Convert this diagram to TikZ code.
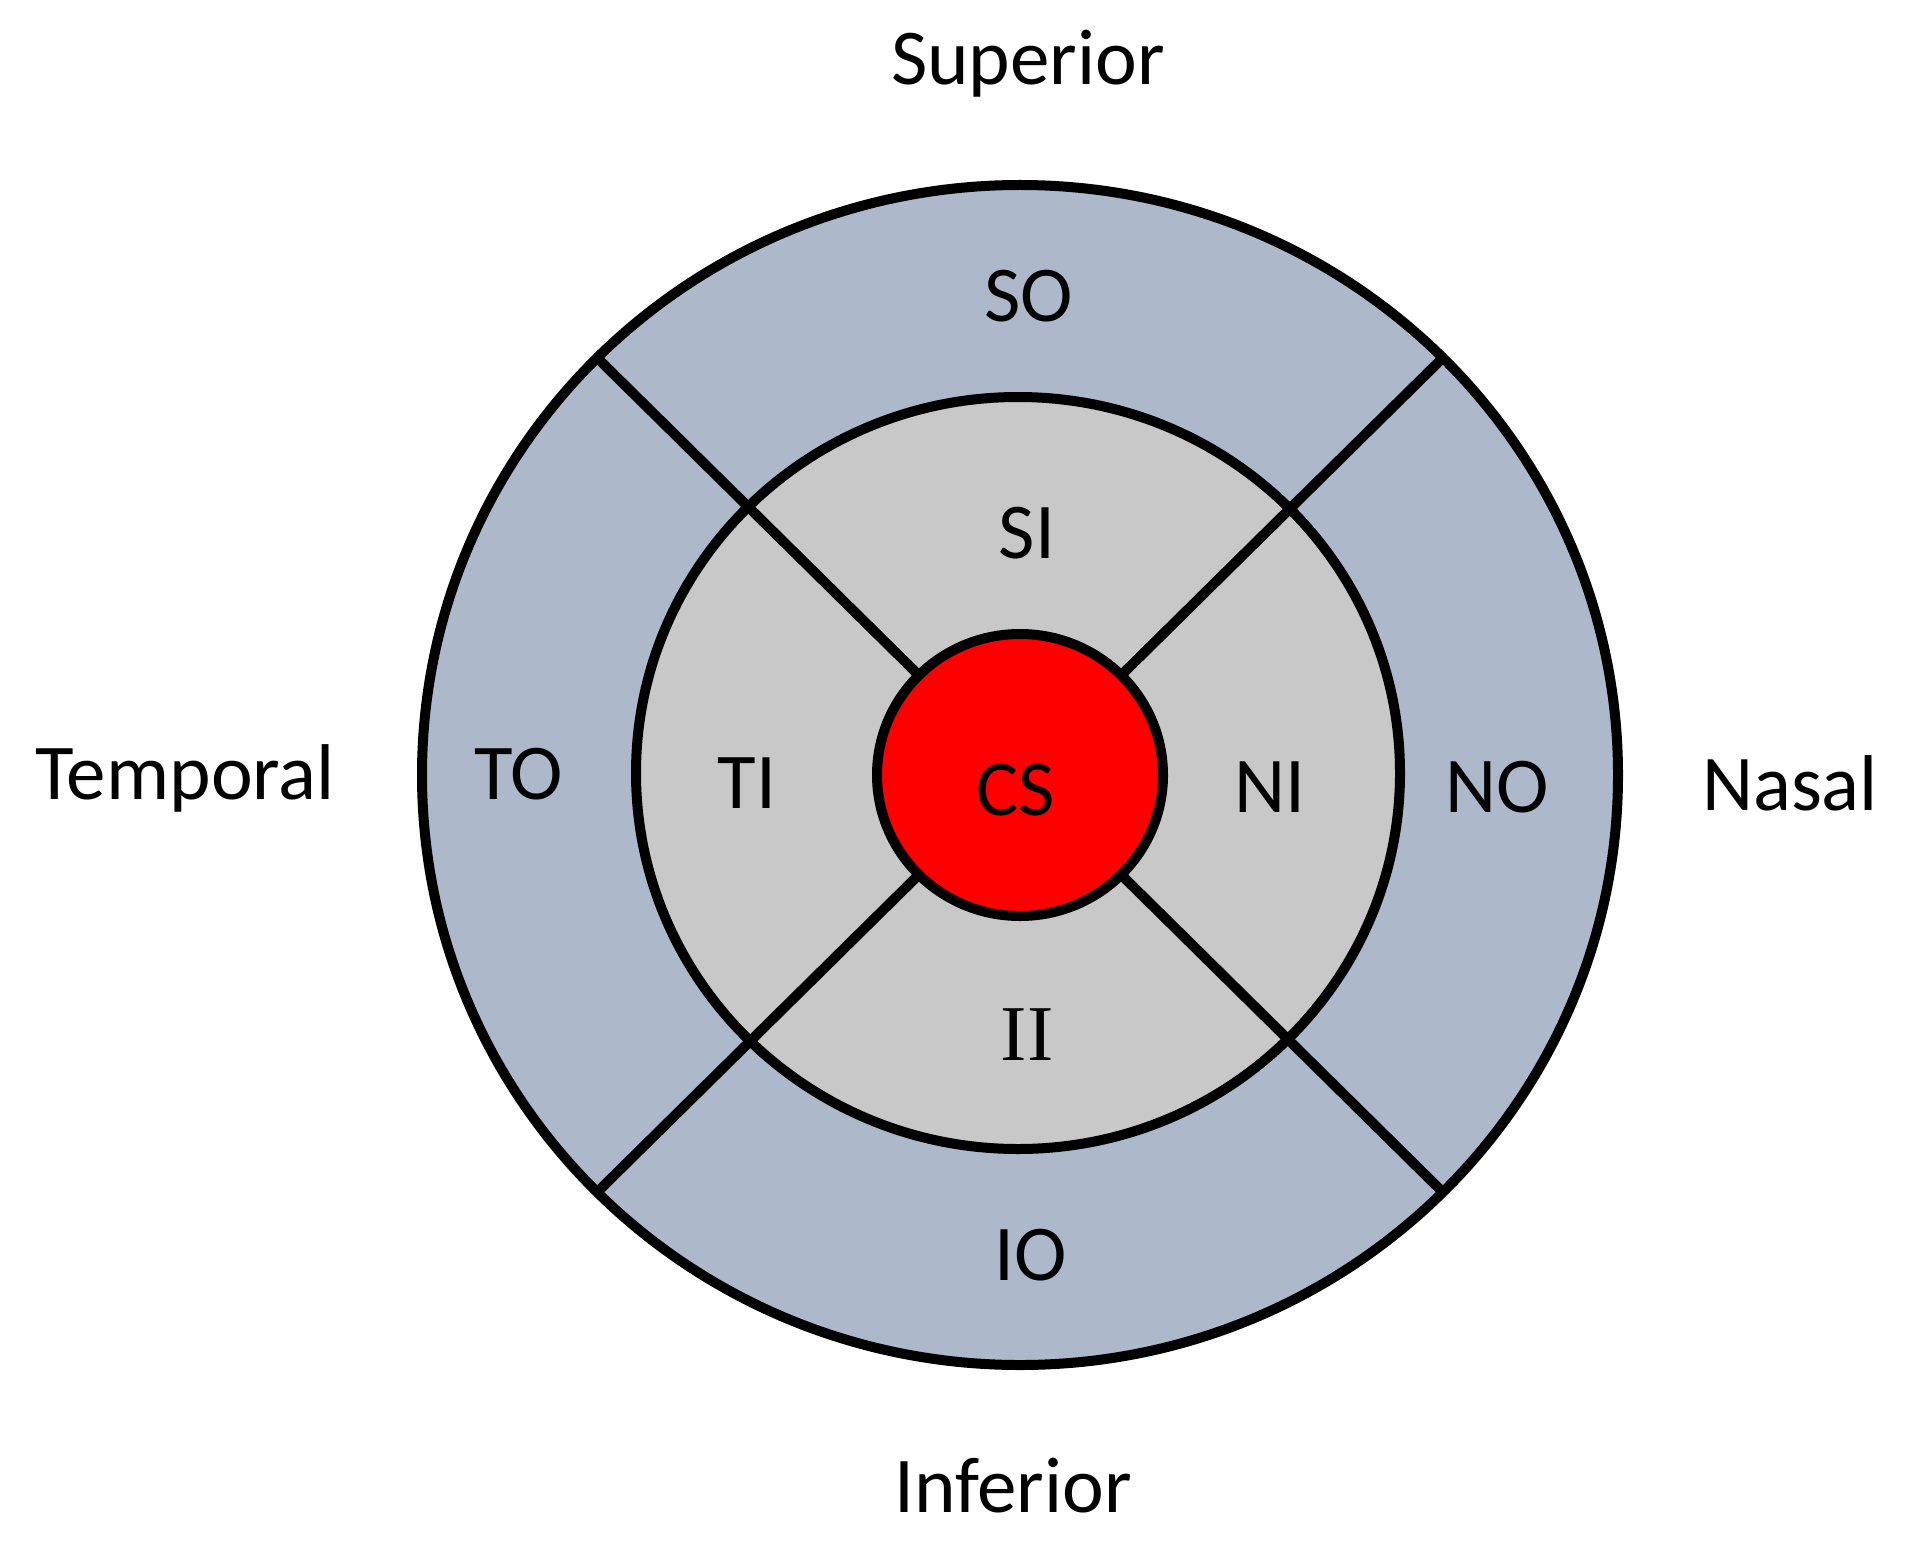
\documentclass[tikz,border=0pt]{standalone}
\usepackage{fontspec}
\setmainfont{Carlito}
\newfontfamily\romanfont{Liberation Serif}
\usepackage{tikz}
\definecolor{outerring}{RGB}{173,185,202}
\definecolor{innerring}{RGB}{200,200,200}
\definecolor{fovea}{RGB}{255,0,0}
\tikzset{zone/.style = {draw = black, line width = 1mm},
         lbl/.style  = {anchor = base, inner sep = 0pt,
                        font = \fontsize{22.5}{27}\selectfont}}

\begin{document}
\begin{tikzpicture}[x = 0.1mm, y = -0.1mm]
      \useasboundingbox (0, 0) rectangle (1910, 1555);
      \coordinate (c) at (1020, 775);

      \filldraw [zone, fill = outerring] (c) ellipse [x radius = 598, y radius = 590];
      \filldraw [zone, fill = innerring] (1018, 773) ellipse [x radius = 382, y radius = 376];
      \foreach \a in {45, 135, 225, 315}
        \draw [zone, shift = {(c)}] (\a:143 and 141) -- (\a:598 and 590);
      \filldraw [zone, fill = fovea] (c) ellipse [x radius = 143, y radius = 141];

      \node [lbl] (sup) at (1028, 85) {Superior};
      \node [lbl] (inf) at (1013, 1512) {Inferior};
      \node [lbl] (tmp) at (185, 799) {Temporal};
      \node [lbl] (nas) at (1790, 810) {Nasal};

      \node [lbl] (so) at (1029, 322) {SO};
      \node [lbl] (si) at (1027, 558) {SI};
      \node [lbl] (to) at (519, 799) {TO};
      \node [lbl] (ti) at (747, 808) {TI};
      \node [lbl] (cs) at (1016, 815) {CS};
      \node [lbl] (ni) at (1270, 812) {NI};
      \node [lbl] (no) at (1497, 812) {NO};
      \node [lbl, font = \romanfont\fontsize{22.5}{27}\selectfont] (ii) at (1027, 1060) {II};
      \node [lbl] (io) at (1031, 1280) {IO};
    \end{tikzpicture}
\end{document}
